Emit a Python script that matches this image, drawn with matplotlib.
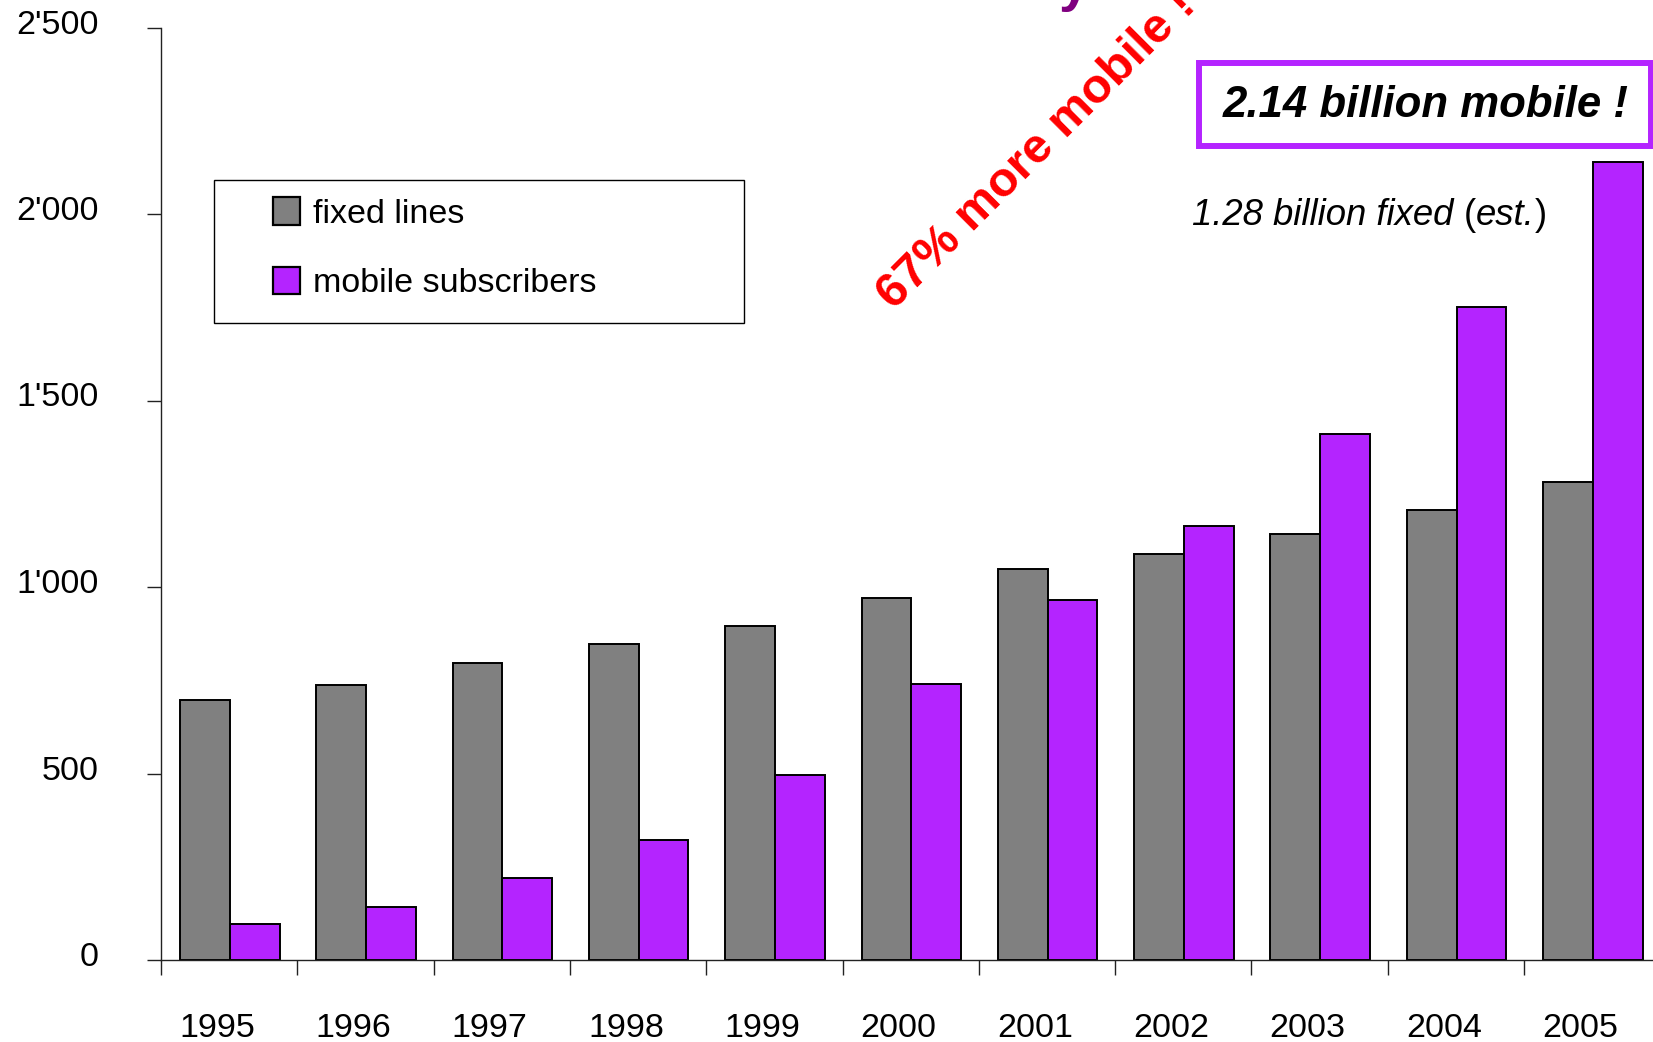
import matplotlib
matplotlib.use("Agg")
import matplotlib.pyplot as plt
import numpy as np
from matplotlib.patches import Rectangle
from matplotlib.transforms import ScaledTranslation

plt.rcParams['font.family'] = ['Liberation Sans', 'DejaVu Sans']

years = ['1995', '1996', '1997', '1998', '1999', '2000',
         '2001', '2002', '2003', '2004', '2005']
# millions
fixed_lines = [697, 737, 797, 848, 895, 971, 1047, 1089, 1142, 1206, 1282]
mobile_subs = [96, 143, 221, 321, 496, 739, 964, 1164, 1409, 1751, 2139]
ytick_vals = [0, 500, 1000, 1500, 2000, 2500]
ytick_text = ['0', '500', "1'000", "1'500", "2'000", "2'500"]

GRAY = '#808080'
PURPLE = '#B424FF'
W, H = 1653, 1042
FS = 24.5


def px(x, y):
    # pixel position from top-left -> figure fraction
    return x / W, 1 - y / H


fig = plt.figure(figsize=(W / 100, H / 100), dpi=100)
ax = fig.add_axes([161 / W, (H - 960) / H, 11 * 136.3 / W, 932.5 / H])

x = np.arange(len(years))
w = 0.365
ax.bar(x - w / 2 + 0.005, fixed_lines, w, color=GRAY, edgecolor='black',
       linewidth=1.4, label='fixed lines')
ax.bar(x + w / 2 + 0.005, mobile_subs, w, color=PURPLE, edgecolor='black',
       linewidth=1.4, label='mobile subscribers')

ax.set_xlim(-0.5, 10.5)
ax.set_ylim(0, 2500)
for s in ['top', 'right']:
    ax.spines[s].set_visible(False)
for s in ['left', 'bottom']:
    ax.spines[s].set_linewidth(1.0)
    ax.spines[s].set_color('#222222')

ax.set_yticks(ytick_vals)
ax.set_yticklabels(ytick_text, fontsize=FS)
ax.tick_params(axis='y', direction='out', length=10, width=1.0, pad=35,
               color='#222222')
for lab in ax.get_yticklabels():
    lab.set_transform(lab.get_transform() +
                      ScaledTranslation(0, 0.06, fig.dpi_scale_trans))

# year labels in the middle, tick marks on the category borders
ax.set_xticks(x)
ax.set_xticklabels(years, fontsize=FS)
ax.set_xticks(np.arange(-0.5, 11, 1.0), minor=True)
ax.tick_params(axis='x', which='major', length=0, pad=38)
ax.tick_params(axis='x', which='minor', direction='out', length=11,
               width=1.0, color='#222222')
for lab in ax.get_xticklabels():
    lab.set_transform(lab.get_transform() +
                      ScaledTranslation(-0.12, 0, fig.dpi_scale_trans))

# legend with its own box
fig.patches.append(Rectangle(px(214, 323), 530 / W, 143 / H,
                             transform=fig.transFigure, fill=False,
                             edgecolor='black', linewidth=1.0))
leg = ax.legend(loc='upper left', bbox_to_anchor=px(273, 197),
                bbox_transform=fig.transFigure, frameon=False,
                fontsize=FS, handlelength=0.78, handleheight=0.87,
                handletextpad=0.4, labelspacing=1.09, borderpad=0,
                borderaxespad=0)
for h in leg.legend_handles:
    h.set_linewidth(1.6)

# cut-off heading above the chart
fig.text(*px(1074, 0), 'y', fontsize=40, fontweight='bold', color='#800080',
         ha='center', va='baseline')

fig.text(*px(894, 311), '67% more mobile !', fontsize=35, fontweight='bold',
         color='red', rotation=45, rotation_mode='anchor',
         ha='left', va='baseline')

fig.patches.append(Rectangle(px(1199, 146), 452 / W, 83 / H,
                             transform=fig.transFigure, fill=False,
                             edgecolor=PURPLE, linewidth=4.3))
fig.text(*px(1426, 117), '2.14 billion mobile !', fontsize=31.5,
         fontweight='bold', fontstyle='italic', ha='center', va='baseline')

t1 = fig.text(*px(1192, 225), '1.28 billion fixed ', fontsize=26.3,
              fontstyle='italic', ha='left', va='baseline')
t2 = ax.annotate('(', xy=(1, 0), xycoords=t1, fontsize=26.3,
                 ha='left', va='bottom')
t3 = ax.annotate('est.', xy=(1, 0), xycoords=t2, fontsize=26.3,
                 fontstyle='italic', ha='left', va='bottom')
ax.annotate(')', xy=(1, 0), xycoords=t3, fontsize=26.3,
            ha='left', va='bottom')

fig.savefig('out.png', dpi=100)
